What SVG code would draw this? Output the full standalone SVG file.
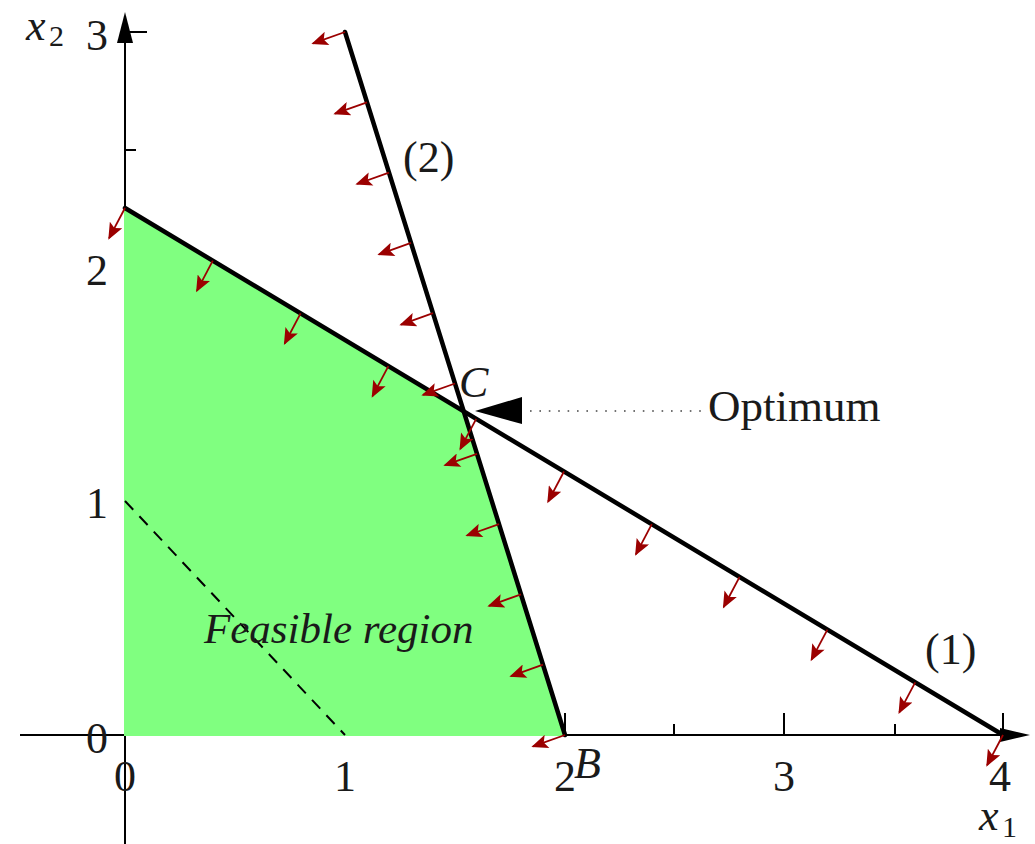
<svg xmlns="http://www.w3.org/2000/svg" width="1035" height="844" viewBox="0 0 1035 844">
<style>
.ax{stroke:#000;stroke-width:2;fill:none}
.con{stroke:#000;stroke-width:4.5;fill:none;stroke-linecap:round}
.ra{stroke:#9b0000;stroke-width:1.8;fill:none;marker-end:url(#rh)}
.t{font-family:"Liberation Serif","DejaVu Serif",serif;font-size:44px;fill:#1a1a1a}
.i{font-style:italic}
.num{text-anchor:middle}
</style>
<defs>
<marker id="rh" markerUnits="userSpaceOnUse" markerWidth="20" markerHeight="14" refX="17" refY="8" orient="auto" viewBox="0 0 20 16">
<path d="M0,0 L19,8 L0,16 L4,8 z" fill="#9b0000"/>
</marker>
</defs>
<rect width="1035" height="844" fill="#fff"/>
<g id="axes">
<line class="ax" x1="20" y1="735" x2="1010" y2="735"/>
<polygon points="1030,735 1000,728 1000,742" fill="#000"/>
<line class="ax" x1="125" y1="844" x2="125" y2="30"/>
<polygon points="125,12 117,43 133,43" fill="#000"/>
<g class="ax">
<line x1="235" y1="735" x2="235" y2="724"/>
<line x1="345" y1="735" x2="345" y2="713"/>
<line x1="455" y1="735" x2="455" y2="724"/>
<line x1="565" y1="735" x2="565" y2="713"/>
<line x1="674" y1="735" x2="674" y2="724"/>
<line x1="784" y1="735" x2="784" y2="713"/>
<line x1="895" y1="735" x2="895" y2="724"/>
<line x1="1003" y1="735" x2="1003" y2="713"/>
<line x1="125" y1="618" x2="136" y2="618"/>
<line x1="125" y1="501" x2="147" y2="501"/>
<line x1="125" y1="384" x2="136" y2="384"/>
<line x1="125" y1="267" x2="147" y2="267"/>
<line x1="125" y1="150" x2="136" y2="150"/>
<line x1="125" y1="32" x2="147" y2="32"/>
</g>
</g>
<g id="feasible">
<polygon points="124,208 463,411 565,736 124,736" fill="#80ff80"/>
</g>
<g id="objective">
<line x1="125" y1="501" x2="345" y2="735" stroke="#000" stroke-width="2" stroke-dasharray="12,9"/>
</g>
<g id="connectors">
<line id="c1" class="con" x1="125" y1="208" x2="1003" y2="735"/>
<line id="c2" class="con" x1="345" y1="32" x2="565" y2="735"/>
<g id="arrows1">
<line class="ra" x1="125" y1="208" x2="109.1" y2="238.1"/>
<line class="ra" x1="212.8" y1="260.7" x2="196.9" y2="290.8"/>
<line class="ra" x1="300.6" y1="313.4" x2="284.7" y2="343.5"/>
<line class="ra" x1="388.4" y1="366.1" x2="372.5" y2="396.2"/>
<line class="ra" x1="476.2" y1="418.8" x2="460.3" y2="448.9"/>
<line class="ra" x1="564" y1="471.5" x2="548.1" y2="501.6"/>
<line class="ra" x1="651.8" y1="524.2" x2="635.9" y2="554.3"/>
<line class="ra" x1="739.6" y1="576.9" x2="723.7" y2="607"/>
<line class="ra" x1="827.4" y1="629.6" x2="811.5" y2="659.7"/>
<line class="ra" x1="915.2" y1="682.3" x2="899.3" y2="712.4"/>
<line class="ra" x1="1003" y1="735" x2="987.1" y2="765.1"/>
</g>
<g id="arrows2">
<line class="ra" x1="345" y1="32" x2="313" y2="43.4"/>
<line class="ra" x1="367" y1="102.3" x2="335" y2="113.7"/>
<line class="ra" x1="389" y1="172.6" x2="357" y2="184"/>
<line class="ra" x1="411" y1="242.9" x2="379" y2="254.3"/>
<line class="ra" x1="433" y1="313.2" x2="401" y2="324.6"/>
<line class="ra" x1="455" y1="383.5" x2="423" y2="394.9"/>
<line class="ra" x1="477" y1="453.8" x2="445" y2="465.2"/>
<line class="ra" x1="499" y1="524.1" x2="467" y2="535.5"/>
<line class="ra" x1="521" y1="594.4" x2="489" y2="605.8"/>
<line class="ra" x1="543" y1="664.7" x2="511" y2="676.1"/>
<line class="ra" x1="565" y1="735" x2="533" y2="746.4"/>
</g>
<g id="optimum-pointer">
<polygon points="475,411 522,397 522,424" fill="#000"/>
<line x1="530" y1="411" x2="702" y2="411" stroke="#444" stroke-width="1.6" stroke-dasharray="1.6,7.8"/>
</g>
</g>
<g id="labels">
<text class="t num" x="97" y="50">3</text>
<text class="t num" x="97" y="285">2</text>
<text class="t num" x="97" y="518">1</text>
<text class="t num" x="97" y="753">0</text>
<text class="t num" x="125" y="791">0</text>
<text class="t num" x="345" y="791">1</text>
<text class="t num" x="565" y="791">2</text>
<text class="t num" x="784" y="791">3</text>
<text class="t num" x="1000" y="791">4</text>
<text class="t i" x="26" y="40">x</text><text class="t" x="49" y="46" style="font-size:30px">2</text>
<text class="t i" x="979" y="830">x</text><text class="t" x="1002" y="837" style="font-size:30px">1</text>
</g>
<g id="node-C"><text class="t i" x="459" y="397">C</text></g>
<g id="node-B"><text class="t i" x="574" y="778">B</text></g>
<g id="label-2"><text class="t" x="403" y="172">(2)</text></g>
<g id="label-1"><text class="t" x="925" y="664">(1)</text></g>
<g id="label-optimum"><text class="t" x="708" y="421" style="font-size:45px">Optimum</text></g>
<g id="label-feasible"><text class="t i" x="204" y="643" style="font-size:43px">Feasible region</text></g>
</svg>
